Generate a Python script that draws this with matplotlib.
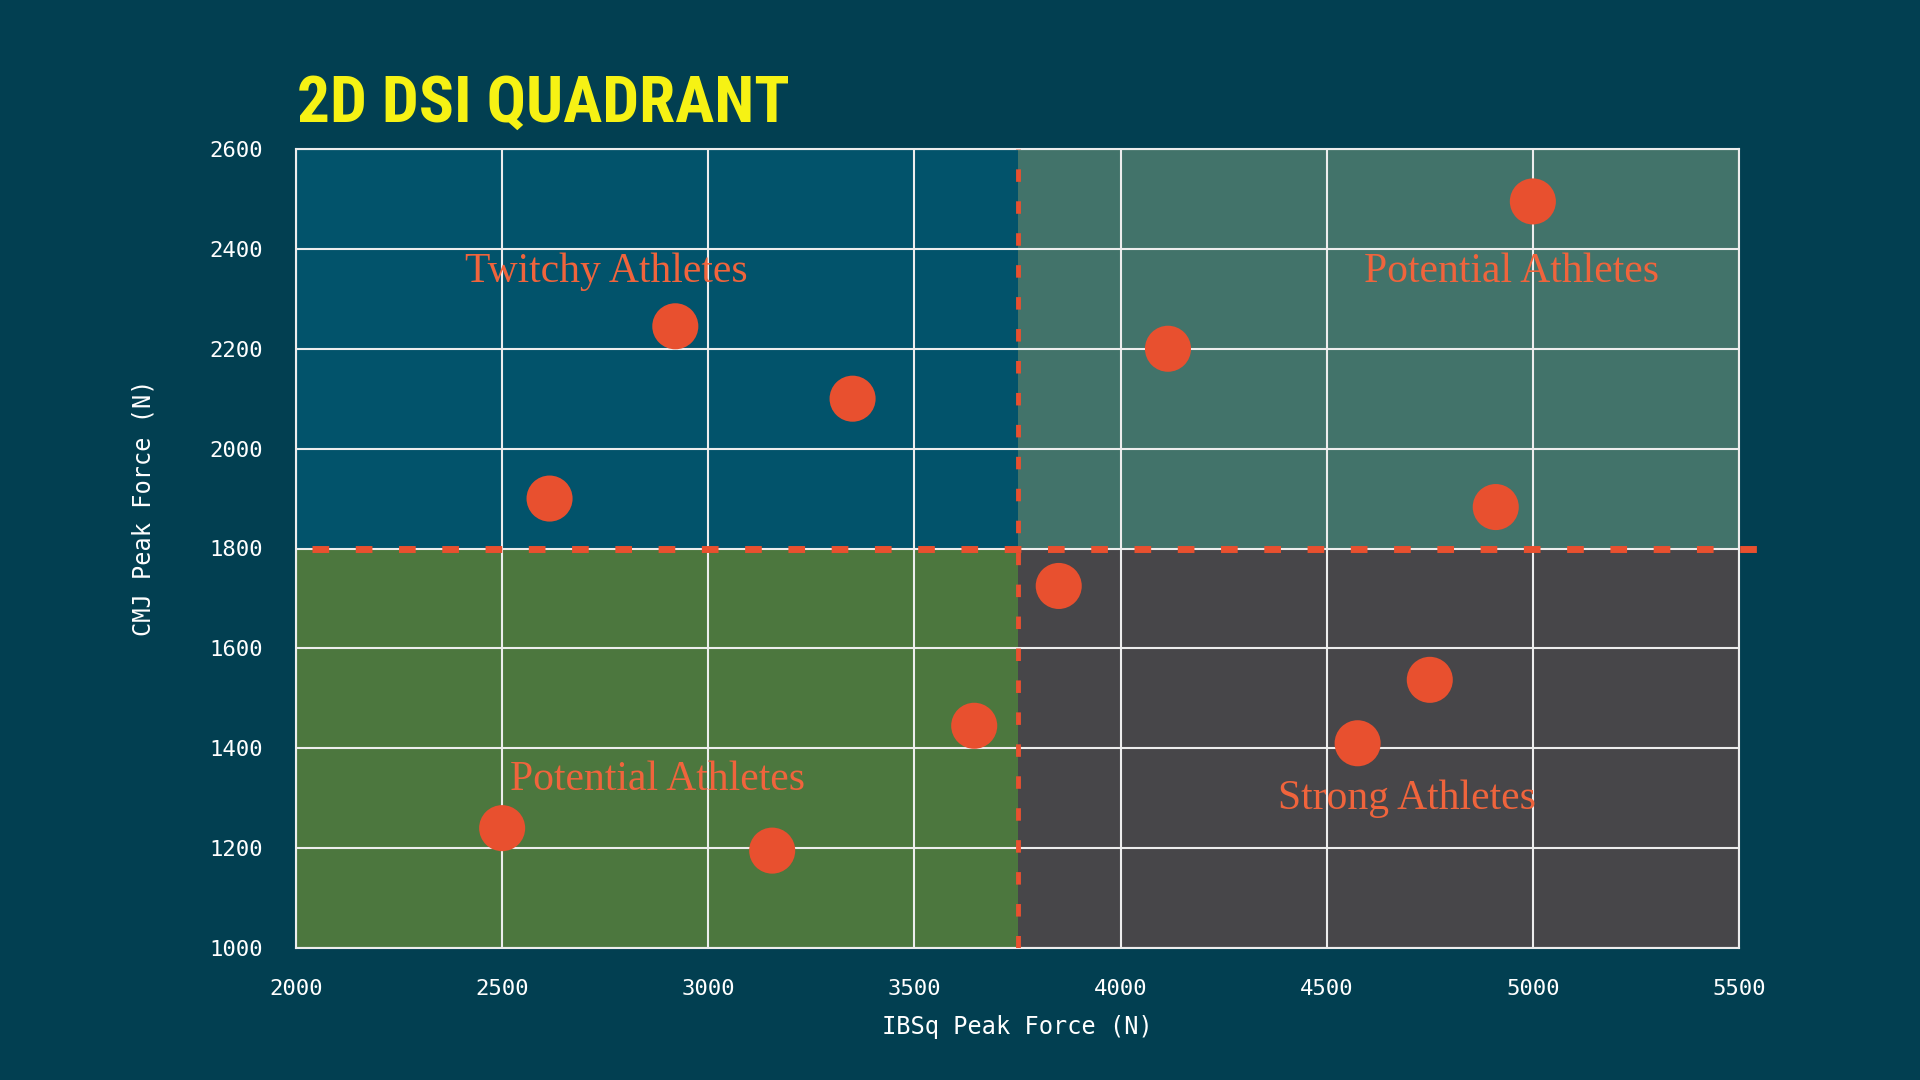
import matplotlib
matplotlib.use("Agg")
import matplotlib.pyplot as plt
from matplotlib import font_manager as fm
from matplotlib.patches import Rectangle

# ---------------- data ----------------
ibsq_peak_force = [2500, 2615, 2920, 3155, 3350, 3645, 3850, 4115, 4575, 4750, 4910, 5000]
cmj_peak_force = [1240, 1900, 2245, 1195, 2100, 1445, 1725, 2200, 1410, 1537, 1883, 2495]

x_split = 3750
y_split = 1800
x_limits = [2000, 5500]
y_limits = [1000, 2600]
x_ticks = [2000, 2500, 3000, 3500, 4000, 4500, 5000, 5500]
y_ticks = [1000, 1200, 1400, 1600, 1800, 2000, 2200, 2400, 2600]

quadrant_labels = ["Twitchy Athletes", "Potential Athletes", "Potential Athletes", "Strong Athletes"]
label_x = [2752, 4947, 2876, 4695]
label_y = [2354, 2354, 1336, 1299]

title = "2D DSI QUADRANT"
x_label = "IBSq Peak Force (N)"
y_label = "CMJ Peak Force (N)"

# ---------------- style ----------------
BG = "#023F51"
C_TL = "#02536B"
C_TR = "#42736A"
C_BL = "#4C773E"
C_BR = "#474649"
ORANGE = "#E8502F"
YELLOW = "#F6F214"

installed = {f.name for f in fm.fontManager.ttflist}
def pick(*names):
    for n in names:
        if n in installed:
            return n
    return "DejaVu Sans"

title_font = pick("Liberation Sans Narrow", "DejaVu Sans Condensed", "Roboto Condensed", "Open Sans Condensed", "Roboto")
mono_font = pick("DejaVu Sans Mono", "Liberation Mono")
serif_font = pick("Liberation Serif", "DejaVu Serif")

plt.rcParams["lines.scale_dashes"] = False

fig = plt.figure(figsize=(19.2, 10.8), dpi=100, facecolor=BG)
ax = fig.add_axes([296 / 1920, 1 - 948 / 1080, (1739 - 296) / 1920, (948 - 149) / 1080])
ax.set_facecolor(BG)
ax.set_xlim(*x_limits)
ax.set_ylim(*y_limits)

# quadrant fills
quads = [
    (x_limits[0], y_split, x_split - x_limits[0], y_limits[1] - y_split, C_TL),
    (x_split, y_split, x_limits[1] - x_split, y_limits[1] - y_split, C_TR),
    (x_limits[0], y_limits[0], x_split - x_limits[0], y_split - y_limits[0], C_BL),
    (x_split, y_limits[0], x_limits[1] - x_split, y_split - y_limits[0], C_BR),
]
for x0, y0, w, h, c in quads:
    ax.add_patch(Rectangle((x0, y0), w, h, facecolor=c, edgecolor="none", zorder=1))

ax.set_axisbelow("line")
ax.grid(True, color="#EDEDED", linewidth=1.5, zorder=1.5)
for s in ax.spines.values():
    s.set_color("#EDEDED")
    s.set_linewidth(1.5)

# threshold lines
ax.plot([2040, 5544], [y_split, y_split], color=ORANGE, linewidth=5,
        dashes=(12, 19.15), solid_capstyle="butt", dash_capstyle="butt",
        clip_on=False, zorder=3)
ax.plot([x_split, x_split], y_limits, color=ORANGE, linewidth=3.5,
        dashes=(9, 14), dash_capstyle="butt", zorder=3)

# points
ax.scatter(ibsq_peak_force, cmj_peak_force, s=1100, color=ORANGE, edgecolors="none", zorder=4)

# quadrant labels
for t, lx, ly in zip(quadrant_labels, label_x, label_y):
    ax.text(lx, ly, t, ha="center", va="center", color="#F0643C",
            fontsize=30, family=serif_font, zorder=5)

ax.set_xticks(x_ticks)
ax.set_yticks(y_ticks)
ax.tick_params(length=0, colors="white", labelsize=16)
ax.tick_params(axis="x", pad=22)
ax.tick_params(axis="y", pad=24)
for lab in ax.get_xticklabels() + ax.get_yticklabels():
    lab.set_family(mono_font)
    lab.set_color("white")

ax.set_xlabel(x_label, family=mono_font, fontsize=17, color="white")
ax.set_ylabel(y_label, family=mono_font, fontsize=17, color="white")
ax.xaxis.set_label_coords(0.5, -0.099)
ax.xaxis.label.set_va("center")
ax.yaxis.set_label_coords(-0.106, 0.551)
ax.yaxis.label.set_va("center")

fig.text(297 / 1920, 1 - 122 / 1080, title, ha="left", va="baseline",
         color=YELLOW, fontsize=47, fontweight="bold", fontstretch="condensed",
         family=title_font)

fig.savefig("out.png", dpi=100, facecolor=BG)
